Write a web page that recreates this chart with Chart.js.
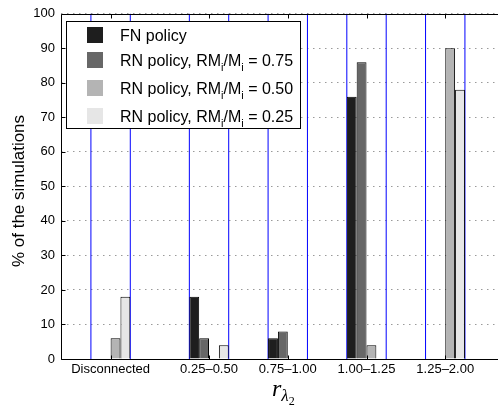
<!DOCTYPE html>
<html>
<head>
<meta charset="utf-8">
<script src="https://cdn.jsdelivr.net/npm/chart.js@4.4.1/dist/chart.umd.min.js"></script>
<style>
  html, body { margin: 0; padding: 0; background: #fff; }
  #wrap { width: 498px; height: 407px; position: relative; }
</style>
</head>
<body>
<div id="wrap"><canvas id="chart" width="498" height="407"></canvas></div>
<script>
// categories on the x axis and where each group sits on it
var categories = ['Disconnected', '0.25\u20130.50', '0.75\u20131.00', '1.00\u20131.25', '1.25\u20132.00'];
var categoryX = [0.75, 2, 3, 4, 5];

// % of the simulations per policy
var fnPolicy = [0, 18, 6, 76, 0];
var rn075 = [0, 6, 8, 86, 0];
var rn050 = [6, 0, 0, 4, 90];
var rn025 = [18, 4, 0, 0, 78];
var rmRatios = ['0.75', '0.50', '0.25'];

var yTicks = [0, 10, 20, 30, 40, 50, 60, 70, 80, 90, 100];

var colors = ['#1e1e1e', '#676767', '#b4b4b4', '#e6e6e6'];
var FONT = "'Liberation Sans', Arial, Helvetica, sans-serif";
var SERIF = "'Liberation Serif', 'Times New Roman', serif";

function makeSet(label, arr, color) {
    return {
        label: label,
        data: arr.map(function (v, i) { return { x: categoryX[i], y: v }; }),
        backgroundColor: color,
        borderColor: '#000',
        borderWidth: 1,
        categoryPercentage: 0.5, // group spans half a unit
        barPercentage: 1.0
    };
}

// draws text with subscript pieces, parts = [[text, isSub], ...]
function drawRich(ctx, x, y, parts, size) {
    parts.forEach(function (p) {
        var sub = p[1];
        ctx.font = (sub ? Math.round(size * 0.7) : size) + 'px ' + FONT;
        ctx.fillText(p[0], x, sub ? y + 5 : y);
        x += ctx.measureText(p[0]).width;
    });
}

var decorPlugin = {
    id: 'decor',
    // blue group edges behind the bars
    beforeDatasetsDraw: function (chart) {
        var ctx = chart.ctx, a = chart.chartArea, xs = chart.scales.x;
        ctx.save();
        ctx.strokeStyle = '#0000ff';
        ctx.lineWidth = 1;
        categoryX.forEach(function (c) {
            [c - 0.25, c + 0.25].forEach(function (v) {
                var px = xs.getPixelForValue(v);
                ctx.beginPath();
                ctx.moveTo(px, a.top);
                ctx.lineTo(px, a.bottom);
                ctx.stroke();
            });
        });
        ctx.restore();
    },
    afterDatasetsDraw: function (chart) {
        var ctx = chart.ctx, a = chart.chartArea, xs = chart.scales.x, ys = chart.scales.y;
        var left = Math.round(a.left) + 0.5, top = Math.round(a.top) + 0.5, bottom = Math.round(a.bottom) + 0.5;
        ctx.save();
        // axes box (right side is off the picture)
        ctx.strokeStyle = '#000';
        ctx.lineWidth = 1;
        ctx.beginPath();
        ctx.moveTo(a.right, top);
        ctx.lineTo(left, top);
        ctx.lineTo(left, bottom);
        ctx.lineTo(a.right, bottom);
        ctx.stroke();

        // inward tick marks
        ctx.beginPath();
        yTicks.forEach(function (t) {
            var py = Math.round(ys.getPixelForValue(t)) + 0.5;
            ctx.moveTo(left, py);
            ctx.lineTo(left + 4, py);
        });
        categoryX.forEach(function (c) {
            var px = Math.round(xs.getPixelForValue(c)) + 0.5;
            ctx.moveTo(px, bottom);
            ctx.lineTo(px, bottom - 4);
            ctx.moveTo(px, top);
            ctx.lineTo(px, top + 4);
        });
        ctx.stroke();

        // legend
        ctx.fillStyle = '#fff';
        ctx.fillRect(66.5, 21.5, 234, 107);
        ctx.strokeRect(66.5, 21.5, 234, 107);
        var rows = [[['FN policy', false]]];
        rmRatios.forEach(function (r) {
            rows.push([['RN policy, RM', false], ['i', true], ['/M', false], ['i', true], [' = ' + r, false]]);
        });
        var baselines = [41, 66, 94, 122];
        ctx.textAlign = 'left';
        ctx.textBaseline = 'alphabetic';
        rows.forEach(function (parts, i) {
            var by = baselines[i];
            ctx.fillStyle = colors[i];
            ctx.fillRect(87, by - 14, 16, 16);
            ctx.fillStyle = '#000';
            drawRich(ctx, 120, by, parts, 16);
        });

        // y axis title
        ctx.save();
        ctx.translate(19, 191);
        ctx.rotate(-Math.PI / 2);
        ctx.textAlign = 'center';
        ctx.textBaseline = 'middle';
        ctx.font = '17px ' + FONT;
        ctx.fillText('% of the simulations', 0, 0);
        ctx.restore();

        // x axis title r_{lambda_2}
        var x0 = 272;
        ctx.font = 'italic 24px ' + SERIF;
        ctx.fillText('r', x0, 396);
        x0 += ctx.measureText('r').width;
        ctx.font = 'italic 17px ' + SERIF;
        ctx.fillText('\u03bb', x0, 401);
        x0 += ctx.measureText('\u03bb').width;
        ctx.font = '12px ' + SERIF;
        ctx.fillText('2', x0, 405);
        ctx.restore();
    }
};

new Chart(document.getElementById('chart'), {
    type: 'bar',
    data: {
        datasets: [
            makeSet('FN policy', fnPolicy, colors[0]),
            makeSet('RN policy, RMi/Mi = ' + rmRatios[0], rn075, colors[1]),
            makeSet('RN policy, RMi/Mi = ' + rmRatios[1], rn050, colors[2]),
            makeSet('RN policy, RMi/Mi = ' + rmRatios[2], rn025, colors[3])
        ]
    },
    options: {
        responsive: false,
        animation: false,
        layout: { padding: { top: 12, left: 0, right: 0, bottom: 0 } },
        plugins: {
            legend: { display: false },
            tooltip: { enabled: false }
        },
        scales: {
            x: {
                type: 'linear',
                min: 0.12,
                max: 5.67,
                offset: false,
                grid: { display: false, offset: false, drawTicks: false },
                border: { display: false },
                afterBuildTicks: function (s) {
                    s.ticks = categoryX.map(function (v) { return { value: v }; });
                },
                afterFit: function (s) { s.height = 48; },
                ticks: {
                    autoSkip: false,
                    maxRotation: 0,
                    padding: 3,
                    color: '#000',
                    font: { family: FONT, size: 13 },
                    callback: function (v, i) { return categories[i]; }
                }
            },
            y: {
                min: 0,
                max: 100,
                afterBuildTicks: function (s) {
                    s.ticks = yTicks.map(function (v) { return { value: v }; });
                },
                afterFit: function (s) { s.width = 61; },
                grid: { color: '#9a9a9a', drawTicks: false, lineWidth: 1 },
                border: { display: false, dash: [1.5, 4.5] },
                ticks: {
                    padding: 6,
                    color: '#000',
                    font: { family: FONT, size: 13 }
                }
            }
        }
    },
    plugins: [decorPlugin]
});
</script>
</body>
</html>
